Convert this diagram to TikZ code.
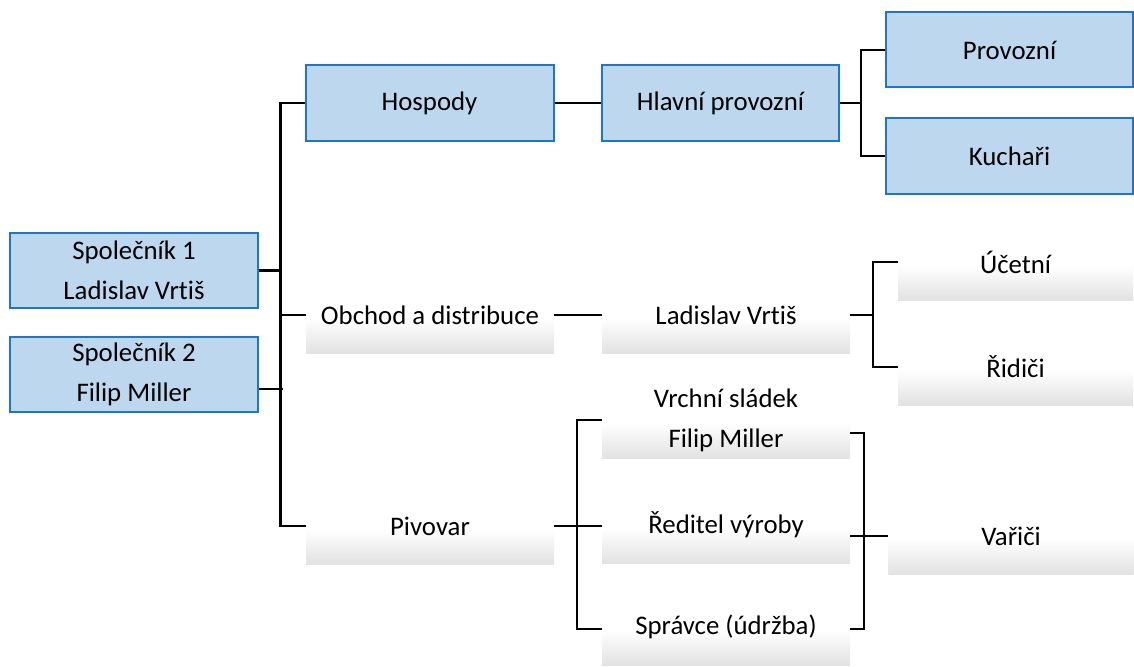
\documentclass[tikz,border=0pt]{standalone}
\usepackage{fontspec}
\setmainfont[Ligatures=NoCommon, RawFeature=-liga]{Carlito}
\definecolor{boxblue}{HTML}{BDD7EE}
\definecolor{boxline}{RGB}{30,118,200}
\definecolor{shadegray}{RGB}{226,226,226}
\pgfdeclareverticalshading{boxshade}{100bp}{color(0bp)=(shadegray); color(25bp)=(shadegray); color(48bp)=(white); color(75bp)=(white); color(100bp)=(white)}
\tikzset{
  bluebox/.style={draw=boxline, line width=2pt, fill=boxblue, minimum width=248pt, minimum height=75pt, inner sep=0pt, align=center, font=\fontsize{26.8pt}{40pt}\selectfont},
  whitebox/.style={shading=boxshade, minimum width=248pt, minimum height=76pt, inner sep=0pt, align=center, font=\fontsize{26.8pt}{40pt}\selectfont},
  conn/.style={line width=2.2pt, black},
}
\begin{document}
\begin{tikzpicture}[x=1pt, y=-1pt]
\useasboundingbox (0,0) rectangle (1134,666);
% blue boxes
\node[bluebox] (sp1) at (134,270.5) {Společník 1\\Ladislav Vrtiš};
\node[bluebox] (sp2) at (134,374) {Společník 2\\Filip Miller};
\node[bluebox] (hosp) at (429.5,103) {Hospody};
\node[bluebox, minimum width=237pt] (hlav) at (720.5,103) {Hlavní provozní};
\node[bluebox, minimum width=247pt] (prov) at (1009.5,50) {Provozní};
\node[bluebox, minimum width=247pt] (kuch) at (1009.5,156) {Kuchaři};
% white boxes
\node[whitebox] (obch) at (430,315) {Obchod a distribuce};
\node[whitebox] (lad) at (726,315) {Ladislav Vrtiš};
\node[whitebox, minimum width=235pt] (uce) at (1015.5,262) {Účetní};
\node[whitebox, minimum width=235pt] (rid) at (1015.5,367) {Řidiči};
\node[whitebox] (piv) at (430,526) {Pivovar};
\node[whitebox] (vrch) at (726,420) {Vrchní sládek\\Filip Miller};
\node[whitebox] (red) at (726,525) {Ředitel výroby};
\node[whitebox] (spr) at (726,627) {\raisebox{-3pt}{Správce (údržba)}};
\node[whitebox, minimum width=245pt] (var) at (1011,536) {Vařiči};
% connectors
\draw[conn] (hosp.west) -- ++(-24,0) coordinate (b1) |- (piv.west);
\draw[conn, line width=3.2pt] (sp1.east) -- (sp1.east -| b1);
\draw[conn] ([yshift=-15pt]sp2.east) -- ++(24,0);
\draw[conn] (obch.west) -- (obch.west -| b1);
\draw[conn] (hosp.east) -- (hlav.west);
\draw[conn] (prov.west) -- ++(-24,0) coordinate (b2) |- (kuch.west);
\draw[conn] (hlav.east) -- (hlav.east -| b2);
\draw[conn] (obch.east) -- (lad.west);
\draw[conn] (uce.west) -- ++(-25,0) coordinate (b3) |- (rid.west);
\draw[conn] (lad.east) -- (lad.east -| b3);
\draw[conn] (vrch.west) -- ++(-25,0) coordinate (b4) |- ([yshift=-2pt]spr.west);
\draw[conn] (piv.east) -- (red.west |- piv.east);
\draw[conn] ([yshift=-13pt]vrch.east) -- ++(14,0) coordinate (b5) |- ([yshift=-2pt]spr.east);
\draw[conn] ([yshift=-11pt]red.east) -- (var.west);
\end{tikzpicture}
\end{document}
